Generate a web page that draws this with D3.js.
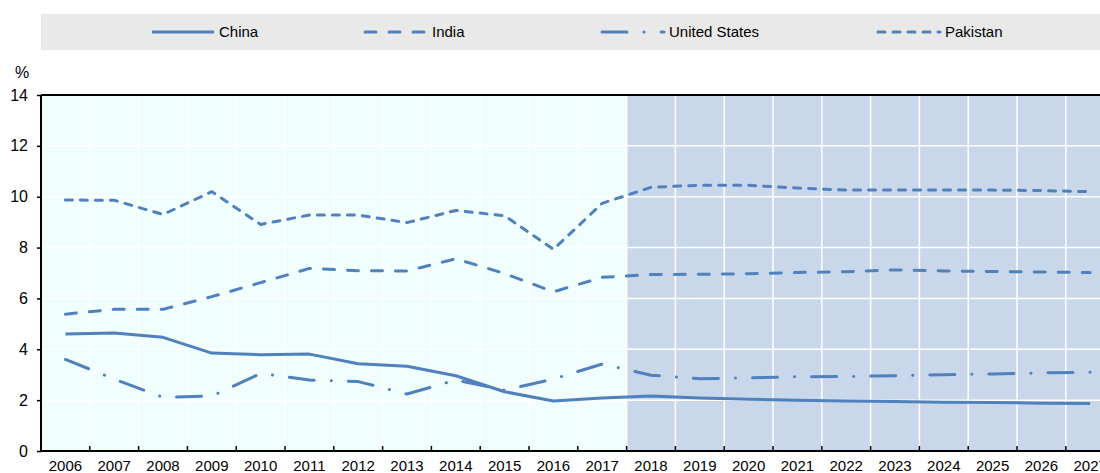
<!DOCTYPE html>
<html>
<head>
<meta charset="utf-8">
<script src="https://cdn.jsdelivr.net/npm/d3@7"></script>
<style>
  body { margin: 0; background: #fff; }
  svg text { font-family: "Liberation Sans", Arial, sans-serif; fill: #000; }
</style>
</head>
<body>
<script>
var years = ["2006", "2007", "2008", "2009", "2010", "2011", "2012", "2013", "2014", "2015", "2016",
    "2017", "2018", "2019", "2020", "2021", "2022", "2023", "2024", "2025", "2026", "2027"];
var projectionStart = "2018";
var yTicks = [0, 2, 4, 6, 8, 10, 12, 14];

var china    = [4.60, 4.64, 4.47, 3.85, 3.79, 3.81, 3.43, 3.33, 2.96, 2.33, 1.97, 2.08,
                2.16, 2.08, 2.04, 2.00, 1.97, 1.95, 1.92, 1.91, 1.88, 1.87];
var india    = [5.38, 5.57, 5.57, 6.07, 6.62, 7.18, 7.09, 7.08, 7.56, 6.98, 6.26, 6.83,
                6.94, 6.95, 6.97, 7.02, 7.05, 7.12, 7.08, 7.06, 7.04, 7.02];
var usa      = [3.60, 2.83, 2.11, 2.16, 3.05, 2.79, 2.73, 2.24, 2.79, 2.39, 2.83, 3.42,
                2.98, 2.84, 2.88, 2.92, 2.93, 2.96, 3.00, 3.03, 3.07, 3.10];
var pakistan = [9.87, 9.86, 9.30, 10.20, 8.91, 9.28, 9.28, 8.98, 9.46, 9.25, 7.93, 9.74,
                10.37, 10.45, 10.45, 10.34, 10.26, 10.26, 10.26, 10.26, 10.24, 10.20];

var series = [
    { name: "China", values: china, dash: null },
    { name: "India", values: india, dash: "11,13" },
    { name: "United States", values: usa, dash: "25,17,0.1,17" },
    { name: "Pakistan", values: pakistan, dash: "7,8" }
];

var w = 1100, h = 473;
var color = "#4f81bd";

var svg = d3.select("body").append("svg")
    .attr("width", w)
    .attr("height", h);

var x = d3.scaleBand()
    .domain(years)
    .range([41, 1114.6])
    .padding(0);

var y = d3.scaleLinear()
    .domain([0, 14])
    .range([451, 95]);

var plotTop = y(14), plotBottom = y(0), plotLeft = 41;

// backgrounds
svg.append("rect")
    .attr("x", plotLeft)
    .attr("y", plotTop)
    .attr("width", x(projectionStart) - plotLeft)
    .attr("height", plotBottom - plotTop)
    .attr("fill", "#f1fefe");

svg.append("rect")
    .attr("x", x(projectionStart))
    .attr("y", plotTop)
    .attr("width", w - x(projectionStart))
    .attr("height", plotBottom - plotTop)
    .attr("fill", "#c9d7ea");

// grid
svg.append("g")
    .attr("class", "grid")
    .selectAll("line")
    .data(yTicks.slice(1))
    .enter().append("line")
    .attr("x1", plotLeft)
    .attr("x2", w)
    .attr("y1", function(d) { return y(d); })
    .attr("y2", function(d) { return y(d); })
    .attr("stroke", "#fff")
    .attr("stroke-width", 1.5);

svg.append("g")
    .attr("class", "grid")
    .selectAll("line")
    .data(years.slice(1))
    .enter().append("line")
    .attr("x1", function(d) { return x(d); })
    .attr("x2", function(d) { return x(d); })
    .attr("y1", plotTop)
    .attr("y2", plotBottom)
    .attr("stroke", "#fff")
    .attr("stroke-width", 1.5);

// lines
var line = d3.line()
    .x(function(d, i) { return x(years[i]) + x.bandwidth() / 2; })
    .y(function(d) { return y(d); });

svg.append("g")
    .selectAll("path")
    .data(series)
    .enter().append("path")
    .attr("d", function(d) { return line(d.values); })
    .attr("fill", "none")
    .attr("stroke", color)
    .attr("stroke-width", 3)
    .attr("stroke-linecap", function(d) { return d.dash ? "round" : "butt"; })
    .attr("stroke-linejoin", "round")
    .attr("stroke-dasharray", function(d) { return d.dash; });

// axes
var yAxis = svg.append("g")
    .attr("transform", "translate(" + plotLeft + ",0)")
    .call(d3.axisLeft(y).tickValues(yTicks).tickSize(4).tickPadding(9).tickFormat(d3.format("d")));
yAxis.select(".domain").attr("stroke", "#000").attr("stroke-width", 2)
    .attr("d", "M0," + plotTop + "V" + plotBottom);
yAxis.selectAll(".tick line").attr("stroke", "#000").attr("stroke-width", 1.5);
yAxis.selectAll(".tick text").attr("font-size", 16);

var xAxis = svg.append("g")
    .attr("transform", "translate(0," + plotBottom + ")")
    .call(d3.axisBottom(x).tickSize(0).tickPadding(9));
xAxis.select(".domain").attr("stroke", "#000").attr("stroke-width", 2)
    .attr("d", "M" + plotLeft + ",0H" + w);
xAxis.selectAll(".tick text").attr("font-size", 15).attr("dy", "0.71em");

// x ticks at category boundaries (pointing up)
svg.append("g")
    .selectAll("line")
    .data(years.slice(1))
    .enter().append("line")
    .attr("x1", function(d) { return x(d); })
    .attr("x2", function(d) { return x(d); })
    .attr("y1", plotBottom)
    .attr("y2", plotBottom - 5)
    .attr("stroke", "#000")
    .attr("stroke-width", 1.5);

// top border
svg.append("line")
    .attr("x1", plotLeft)
    .attr("x2", w)
    .attr("y1", plotTop)
    .attr("y2", plotTop)
    .attr("stroke", "#000")
    .attr("stroke-width", 2);

svg.append("text")
    .attr("x", 22)
    .attr("y", 78)
    .attr("text-anchor", "middle")
    .attr("font-size", 16)
    .text("%");

// legend
svg.append("rect")
    .attr("x", 41)
    .attr("y", 14)
    .attr("width", w - 41)
    .attr("height", 36)
    .attr("fill", "#e9e9e9");

var legendX = [152, 365, 602, 878];
var legend = svg.append("g")
    .selectAll("g")
    .data(series)
    .enter().append("g")
    .attr("transform", function(d, i) { return "translate(" + legendX[i] + ",32)"; });

legend.append("line")
    .attr("x1", 0)
    .attr("x2", 62)
    .attr("stroke", color)
    .attr("stroke-width", 3)
    .attr("stroke-linecap", function(d) { return d.dash ? "round" : "butt"; })
    .attr("stroke-dasharray", function(d) { return d.dash; });

legend.append("text")
    .attr("x", 67)
    .attr("dy", "0.35em")
    .attr("font-size", 15)
    .text(function(d) { return d.name; });
</script>
</body>
</html>
